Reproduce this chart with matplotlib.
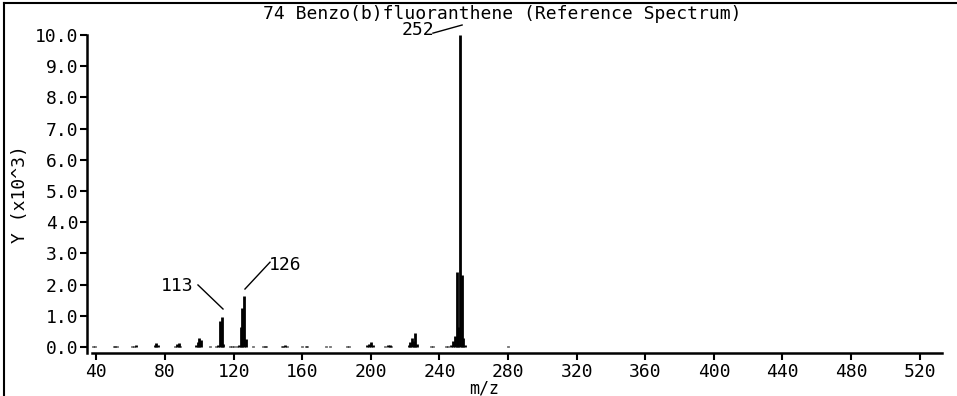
import matplotlib
matplotlib.use("Agg")
import matplotlib.pyplot as plt
from matplotlib.lines import Line2D

# === DATA (intensity in units of 10^3) ===
mz = [38, 39, 50, 51, 52, 61, 62, 63, 74, 75, 76, 86, 87, 88, 89,
      98, 99, 100, 101, 106, 110, 111, 112, 113, 114, 118, 119, 120,
      122, 123, 124, 125, 126, 127, 131, 137, 138, 139, 148, 149, 150,
      151, 160, 162, 163, 174, 176, 186, 187, 198, 199, 200, 201, 208,
      210, 211, 212, 222, 223, 224, 225, 226, 227, 235, 236, 244, 245,
      247, 248, 249, 250, 251, 252, 253, 254, 255, 280]
intensity = [0.05, 0.03, 0.05, 0.04, 0.02, 0.03, 0.05, 0.06, 0.08, 0.12, 0.06,
             0.05, 0.10, 0.12, 0.04, 0.08, 0.15, 0.30, 0.22, 0.03, 0.04, 0.06,
             0.85, 0.95, 0.10, 0.03, 0.05, 0.04, 0.05, 0.08, 0.65, 1.25, 1.65,
             0.25, 0.03, 0.04, 0.03, 0.03, 0.04, 0.05, 0.08, 0.05, 0.03, 0.04,
             0.03, 0.05, 0.04, 0.05, 0.04, 0.06, 0.10, 0.15, 0.07, 0.04, 0.07,
             0.06, 0.04, 0.08, 0.15, 0.30, 0.18, 0.45, 0.10, 0.03, 0.05, 0.03,
             0.04, 0.08, 0.20, 0.35, 2.40, 0.65, 10.0, 2.30, 0.30, 0.06, 0.03]

y_ticks = [0, 1, 2, 3, 4, 5, 6, 7, 8, 9, 10]
x_ticks = [40, 80, 120, 160, 200, 240, 280, 320, 360, 400, 440, 480, 520]

TITLE = "74 Benzo(b)fluoranthene (Reference Spectrum)"
FONT = "DejaVu Sans Mono"
FS = 13

plt.rcParams["font.family"] = FONT

fig = plt.figure(figsize=(9.57, 3.96), dpi=100)
ax = fig.add_axes([87 / 957, 1 - 353 / 396, (942 - 87) / 957, (353 - 35) / 396])

ax.vlines(mz, 0, intensity, colors="black", linewidth=2)

ax.set_xlim(34.5, 533)
ax.set_ylim(-0.19, 10.0)

ax.set_yticks(y_ticks)
ax.set_yticklabels([f"{v:.1f}" for v in y_ticks])
ax.set_xticks(x_ticks)
ax.tick_params(axis="both", direction="out", length=5, width=1.5,
               labelsize=FS, colors="black")
ax.tick_params(axis="y", pad=1)
ax.tick_params(axis="x", pad=2)

for side in ["top", "right"]:
    ax.spines[side].set_visible(False)
ax.spines["left"].set_linewidth(1.8)
ax.spines["bottom"].set_linewidth(1.8)
ax.spines["bottom"].set_bounds(37.5, 533)

ax.set_ylabel("Y (x10^3)", fontsize=FS)
ax.yaxis.set_label_coords(-0.068, 0.5)
ax.set_xlabel("m/z", fontsize=12)
ax.xaxis.set_label_coords(0.465, -0.084)

fig.text(0.5245, 0.965, TITLE, ha="center", va="center", fontsize=FS)

# peak labels with leader lines
ax.text(218.0, 10.15, "252", ha="left", va="center", fontsize=FS)
ax.plot([236.2, 253.2], [10.06, 10.32], color="black", lw=1, clip_on=False)
ax.text(77.5, 1.96, "113", ha="left", va="center", fontsize=FS)
ax.plot([99.2, 113.8], [1.99, 1.22], color="black", lw=1)
ax.text(140.5, 2.63, "126", ha="left", va="center", fontsize=FS)
ax.plot([126.6, 141.2], [1.86, 2.72], color="black", lw=1)

# scanned page frame
fig.add_artist(Line2D([4 / 957, 4 / 957], [0, 1 - 3 / 396], color="black", lw=1.5))
fig.add_artist(Line2D([4 / 957, 1], [1 - 3 / 396, 1 - 3 / 396], color="black", lw=1.5))

fig.savefig("out.png", dpi=100)
